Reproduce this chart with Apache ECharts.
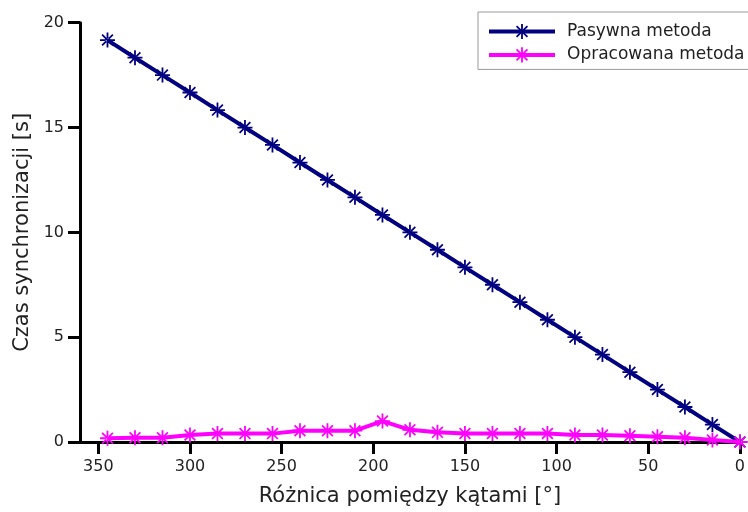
<!DOCTYPE html>
<html><head><meta charset="utf-8">
<script src="https://cdn.jsdelivr.net/npm/echarts@6/dist/echarts.min.js"></script>
<style>html,body{margin:0;padding:0;background:#fff}#c{width:748px;height:512px}</style>
</head><body><div id="c"></div>
<script>
const xValues = [345,330,315,300,285,270,255,240,225,210,195,180,165,150,135,120,105,90,75,60,45,30,15,0];
const pasywna = [19.17,18.33,17.5,16.67,15.83,15,14.17,13.33,12.5,11.67,10.83,10,9.17,8.33,7.5,6.67,5.83,5,4.17,3.33,2.5,1.67,0.83,0];
const opracowana = [0.18,0.2,0.2,0.33,0.4,0.4,0.4,0.54,0.54,0.54,1.0,0.58,0.46,0.41,0.41,0.41,0.41,0.33,0.33,0.3,0.25,0.2,0.1,0];
const xTicks = [0,50,100,150,200,250,300,350];
const seriesNames = ['Pasywna metoda','Opracowana metoda'];
const xName = 'Różnica pomiędzy kątami [°]';
const yName = 'Czas synchronizacji [s]';

const star = 'path://M0 44H100V56H0Z M44 0H56V100H44Z M18.2 10L90 81.8L81.8 90L10 18.2Z M81.8 10L10 81.8L18.2 90L90 18.2Z';
const font = 'DejaVu Sans';
function pairs(v){ return xValues.map((x,i)=>[x,v[i]]); }

const chart = echarts.init(document.getElementById('c'), null, {renderer:'canvas'});
chart.setOption({
  backgroundColor:'#fff',
  animation:false,
  grid:{left:80, top:22.7, right:2.4, bottom:69.3, containLabel:false},
  legend:{
    orient:'vertical', left:478, top:12, padding:[11,40,6,9],
    borderColor:'#999', borderWidth:1, backgroundColor:'#fff',
    itemWidth:66, itemHeight:19, itemGap:6.4,
    lineStyle:{width:4},
    textStyle:{fontFamily:font, fontSize:17, color:'#222', padding:[0,0,0,7]},
    data:seriesNames
  },
  xAxis:{
    type:'value', inverse:true, min:0, max:360,
    name:xName, nameLocation:'middle', nameGap:44,
    nameTextStyle:{fontFamily:font, fontSize:21, color:'#222'},
    axisLine:{onZero:false, lineStyle:{color:'#000', width:3}},
    axisTick:{show:true, length:12, lineStyle:{width:3, color:'#000'}, customValues:xTicks},
    axisLabel:{fontFamily:font, fontSize:16, color:'#222', margin:17, customValues:xTicks},
    splitLine:{show:false}
  },
  yAxis:{
    type:'value', min:0, max:20, interval:5, position:'left',
    name:yName, nameLocation:'middle', nameGap:47,
    nameTextStyle:{fontFamily:font, fontSize:21, color:'#222'},
    axisLine:{show:true, onZero:false, lineStyle:{color:'#000', width:3}},
    axisTick:{show:true, length:12, lineStyle:{width:3, color:'#000'}},
    axisLabel:{fontFamily:font, fontSize:16, color:'#222', margin:16},
    splitLine:{show:false}
  },
  series:[
    {name:seriesNames[0], type:'line', data:pairs(pasywna), symbol:star, symbolSize:15,
     lineStyle:{color:'#000080', width:4}, itemStyle:{color:'#000080'}, z:3},
    {name:seriesNames[1], type:'line', data:pairs(opracowana), symbol:star, symbolSize:15,
     lineStyle:{color:'#ff00ff', width:4}, itemStyle:{color:'#ff00ff'}, z:4}
  ]
});
</script></body></html>
